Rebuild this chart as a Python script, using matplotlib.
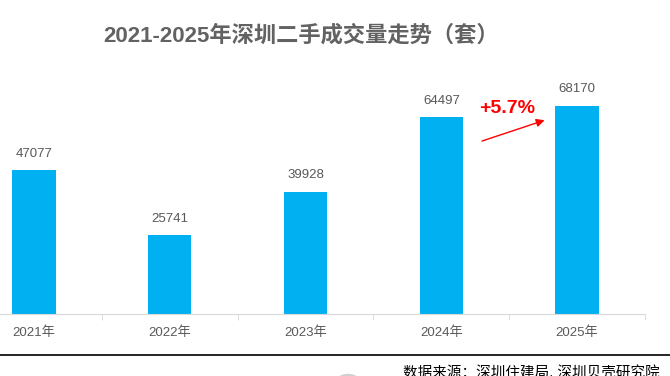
import matplotlib.pyplot as plt
from matplotlib.lines import Line2D
from matplotlib.patches import Circle

plt.rcParams['font.family'] = ['Liberation Sans', 'Noto Sans CJK SC', 'DejaVu Sans']

years = ["2021年", "2022年", "2023年", "2024年", "2025年"]
volumes = [47077, 25741, 39928, 64497, 68170]
growth_label = "+5.7%"
title = "2021-2025年深圳二手成交量走势（套）"
source = "数据来源：深圳住建局, 深圳贝壳研究院"

fig = plt.figure(figsize=(6.7, 3.76), dpi=100)
ax = fig.add_axes([0, 0.165, 645 / 670, 0.649])

x = list(range(len(years)))
ax.bar(x, volumes, width=0.32, color="#00B0F0")
for xi, v in zip(x, volumes):
    ax.text(xi, v + 3500, str(v), ha="center", va="bottom", fontsize=9.5, color="#595959")

ax.set_xlim(-0.25, 4.5)
ax.set_ylim(0, 80000)
ax.set_yticks([])
ax.set_xticks(x)
ax.set_xticklabels(years, fontsize=9.5, color="#595959")
ax.set_xticks([i + 0.5 for i in x], minor=True)
ax.tick_params(axis="x", which="major", length=0, pad=9)
ax.tick_params(axis="x", which="minor", length=4, color="#d9d9d9")
for side in ["top", "right", "left"]:
    ax.spines[side].set_visible(False)
ax.spines["bottom"].set_color("#d9d9d9")

# growth annotation
ax.annotate("", xy=(3.78, 63800), xytext=(3.28, 56400),
            arrowprops=dict(arrowstyle="-|>", color="red", lw=1, mutation_scale=12))
ax.text(3.485, 67500, growth_label, ha="center", va="center", fontsize=14,
        fontweight="bold", color="red")

fig.text(0.449, 0.905, title, ha="center", va="center", fontsize=16,
         fontweight="bold", color="#626262")

fig.add_artist(Line2D([0, 1], [0.056, 0.056], color="black", lw=1.2, transform=fig.transFigure))
fig.text(0.985, 0.008, source, ha="right", va="center", fontsize=10.5, color="black")
fig.add_artist(Circle((348 / 670, -0.012), 0.016, transform=fig.transFigure, color="#d0d0d0"))

fig.savefig("out.png")
